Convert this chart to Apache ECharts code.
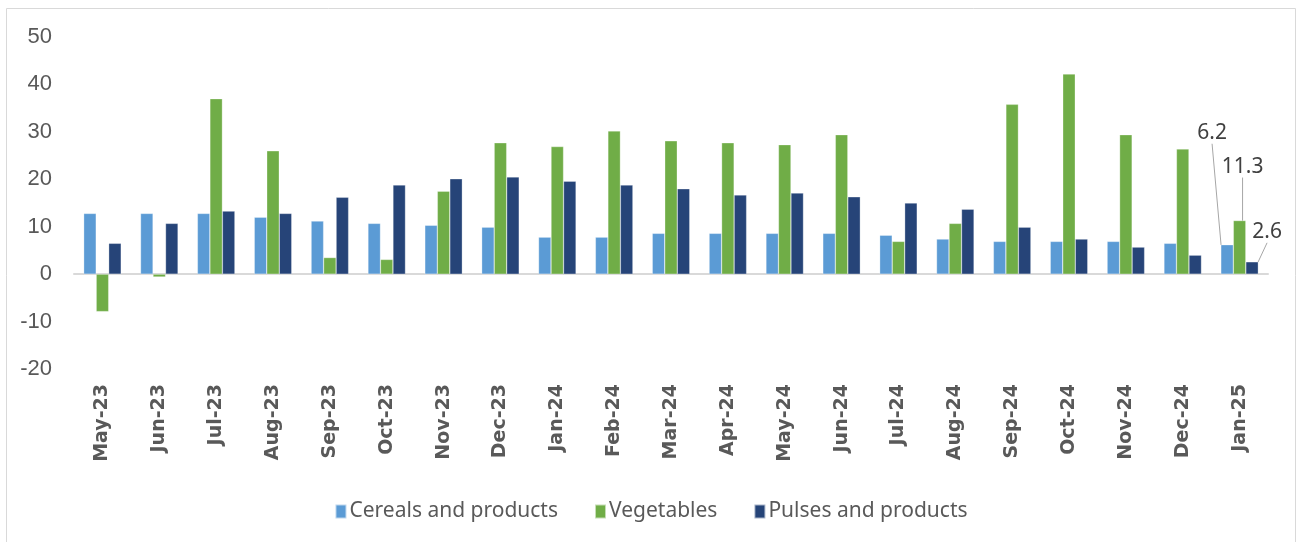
<!DOCTYPE html>
<html>
<head>
<meta charset="utf-8">
<script src="https://cdn.jsdelivr.net/npm/echarts@6/dist/echarts.min.js"></script>
<style>
  html, body { margin: 0; padding: 0; background: #fff; }
  #chart { width: 1302px; height: 542px; }
</style>
</head>
<body>
<div id="chart"></div>
<script>
var months = ['May-23', 'Jun-23', 'Jul-23', 'Aug-23', 'Sep-23', 'Oct-23', 'Nov-23', 'Dec-23',
  'Jan-24', 'Feb-24', 'Mar-24', 'Apr-24', 'May-24', 'Jun-24', 'Jul-24', 'Aug-24',
  'Sep-24', 'Oct-24', 'Nov-24', 'Dec-24', 'Jan-25']
var cereals = [12.8, 12.8, 12.8, 12.0, 11.2, 10.7, 10.3, 9.9, 7.8, 7.8, 8.6, 8.6, 8.6, 8.6, 8.2, 7.4, 6.9, 6.9, 6.9, 6.5, 6.2]
var vegetables = [-7.9, -0.6, 37.0, 26.0, 3.5, 3.1, 17.5, 27.7, 26.9, 30.2, 28.1, 27.7, 27.3, 29.4, 6.9, 10.7, 35.8, 42.2, 29.4, 26.4, 11.3]
var pulses = [6.5, 10.7, 13.3, 12.8, 16.2, 18.8, 20.1, 20.5, 19.6, 18.8, 18.0, 16.7, 17.1, 16.3, 15.0, 13.7, 9.9, 7.4, 5.7, 4.0, 2.6]
var yTicks = [-20, -10, 0, 10, 20, 30, 40, 50]

var colors = ['#5B9BD5', '#70AD47', '#264478']
// only the last month gets a value label, pulled up with a leader line
var labelMoves = [[-15, -96], [3, -38], [15, -14]]

function makeSeries(name, values, i) {
  var last = values.length - 1
  return {
    name: name,
    type: 'bar',
    barWidth: 12.5,
    barGap: '0%',
    itemStyle: { color: colors[i], borderColor: 'rgba(255,255,255,0.6)', borderWidth: 0.5 },
    data: values.map(function (v, k) {
      if (k !== last) return v
      return {
        value: v,
        label: {
          show: true,
          position: 'top',
          fontFamily: 'Noto Sans',
          fontSize: 21,
          color: '#404040'
        },
        labelLine: { show: true, lineStyle: { color: '#A6A6A6', width: 1 } }
      }
    }),
    labelLayout: function () {
      return { dx: labelMoves[i][0], dy: labelMoves[i][1] }
    }
  }
}

var chart = echarts.init(document.getElementById('chart'))
chart.setOption({
  animation: false,
  color: colors,
  graphic: [{
    type: 'rect',
    shape: { x: 6.5, y: 8.5, width: 1289, height: 560 },
    style: { fill: 'none', stroke: '#D9D9D9', lineWidth: 1 },
    silent: true
  }],
  grid: { left: 74, right: 34, top: 37, bottom: 173 },
  legend: {
    left: 'center',
    top: 496,
    itemWidth: 11,
    itemHeight: 14,
    itemGap: 36,
    icon: 'rect',
    textStyle: { fontFamily: 'Noto Sans', fontSize: 21, color: '#595959', padding: [0, 0, 0, -2] },
    data: ['Cereals and products', 'Vegetables', 'Pulses and products']
  },
  xAxis: [{
    type: 'category',
    data: months,
    axisLine: { onZero: true, lineStyle: { color: '#D9D9D9', width: 2 } },
    axisTick: { show: false },
    axisLabel: { show: false }
  }, {
    type: 'category',
    data: months,
    position: 'bottom',
    axisLine: { show: false, onZero: false },
    axisTick: { show: false },
    axisLabel: {
      rotate: 90,
      interval: 0,
      margin: 15,
      fontFamily: 'DejaVu Sans',
      fontWeight: 'bold',
      fontSize: 19,
      color: '#595959'
    }
  }],
  yAxis: {
    type: 'value',
    min: yTicks[0],
    max: yTicks[yTicks.length - 1],
    interval: 10,
    splitLine: { show: false },
    axisLine: { show: false },
    axisTick: { show: false },
    axisLabel: { margin: 22, fontFamily: 'Liberation Sans', fontSize: 22, color: '#595959' }
  },
  series: [
    makeSeries('Cereals and products', cereals, 0),
    makeSeries('Vegetables', vegetables, 1),
    makeSeries('Pulses and products', pulses, 2)
  ]
})
</script>
</body>
</html>
